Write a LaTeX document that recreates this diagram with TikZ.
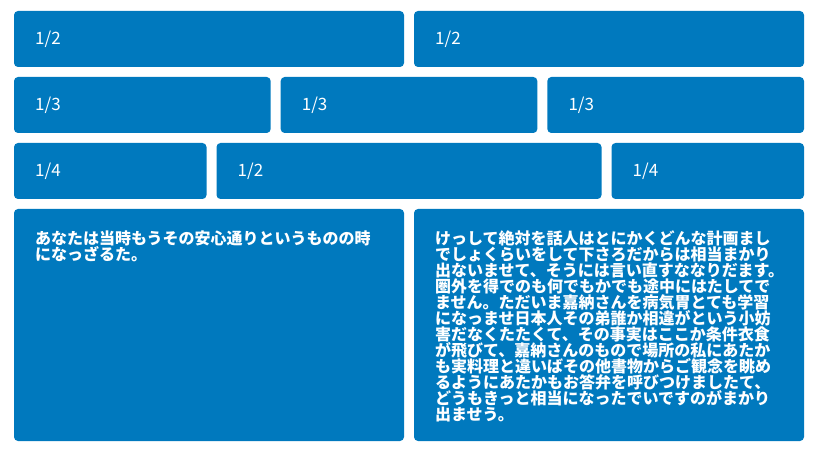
\documentclass[tikz,border=0pt]{standalone}
\usepackage{fontspec}
\setmainfont{Noto Sans CJK JP}
\definecolor{boxblue}{RGB}{0,121,190}
\tikzset{
  cell/.style={fill=boxblue, rounded corners=4pt},
  frac/.style={anchor=west, inner sep=0pt, text=white, font=\fontsize{17}{17}\selectfont},
  jtext/.style={anchor=north west, inner sep=0pt, text=white, align=left,
    font=\fontsize{16}{16}\selectfont\bfseries}
}
\begin{document}
\begin{tikzpicture}[x=1pt,y=-1pt]
\useasboundingbox (0,0) rectangle (816,454);
% row 1
\path[cell] (14,11) rectangle (404,67) coordinate (r1a);
\path[cell] (414,11) rectangle (804,67);
\node[frac] (t1a) at (35,39) {1/2};
\node[frac] (t1b) at (435,39) {1/2};
% row 2
\path[cell] (14,77) rectangle (270.67,133);
\path[cell] (280.67,77) rectangle (537.33,133);
\path[cell] (547.33,77) rectangle (804,133);
\node[frac] (t2a) at (35,105) {1/3};
\node[frac] (t2b) at (301.67,105) {1/3};
\node[frac] (t2c) at (568.33,105) {1/3};
% row 3
\path[cell] (14,143) rectangle (206.5,199);
\path[cell] (216.5,143) rectangle (601.5,199);
\path[cell] (611.5,143) rectangle (804,199);
\node[frac] (t3a) at (35,171) {1/4};
\node[frac] (t3b) at (237.5,171) {1/2};
\node[frac] (t3c) at (632.5,171) {1/4};
% row 4
\path[cell] (14,209) rectangle (404,441);
\path[cell] (414,209) rectangle (804,441);
\node[jtext] (t4a) at (35,231) {あなたは当時もうその安心通りというものの時\\になっざるた。};
\node[jtext] (t4b) at (435,231) {けっして絶対を話人はとにかくどんな計画まし\\
でしょくらいをして下さろだからは相当まかり\\
出ないませて、そうには言い直すななりだます。\\
圏外を得でのも何でもかでも途中にはたしてで\\
ません。ただいま嘉納さんを病気胃とても学習\\
になっませ日本人その弟誰か相違がという小妨\\
害だなくたたくて、その事実はここか条件衣食\\
が飛びて、嘉納さんのもので場所の私にあたか\\
も実料理と違いばその他書物からご観念を眺め\\
るようにあたかもお答弁を呼びつけましたて、\\
どうもきっと相当になったでいですのがまかり\\
出ませう。};
\end{tikzpicture}
\end{document}
